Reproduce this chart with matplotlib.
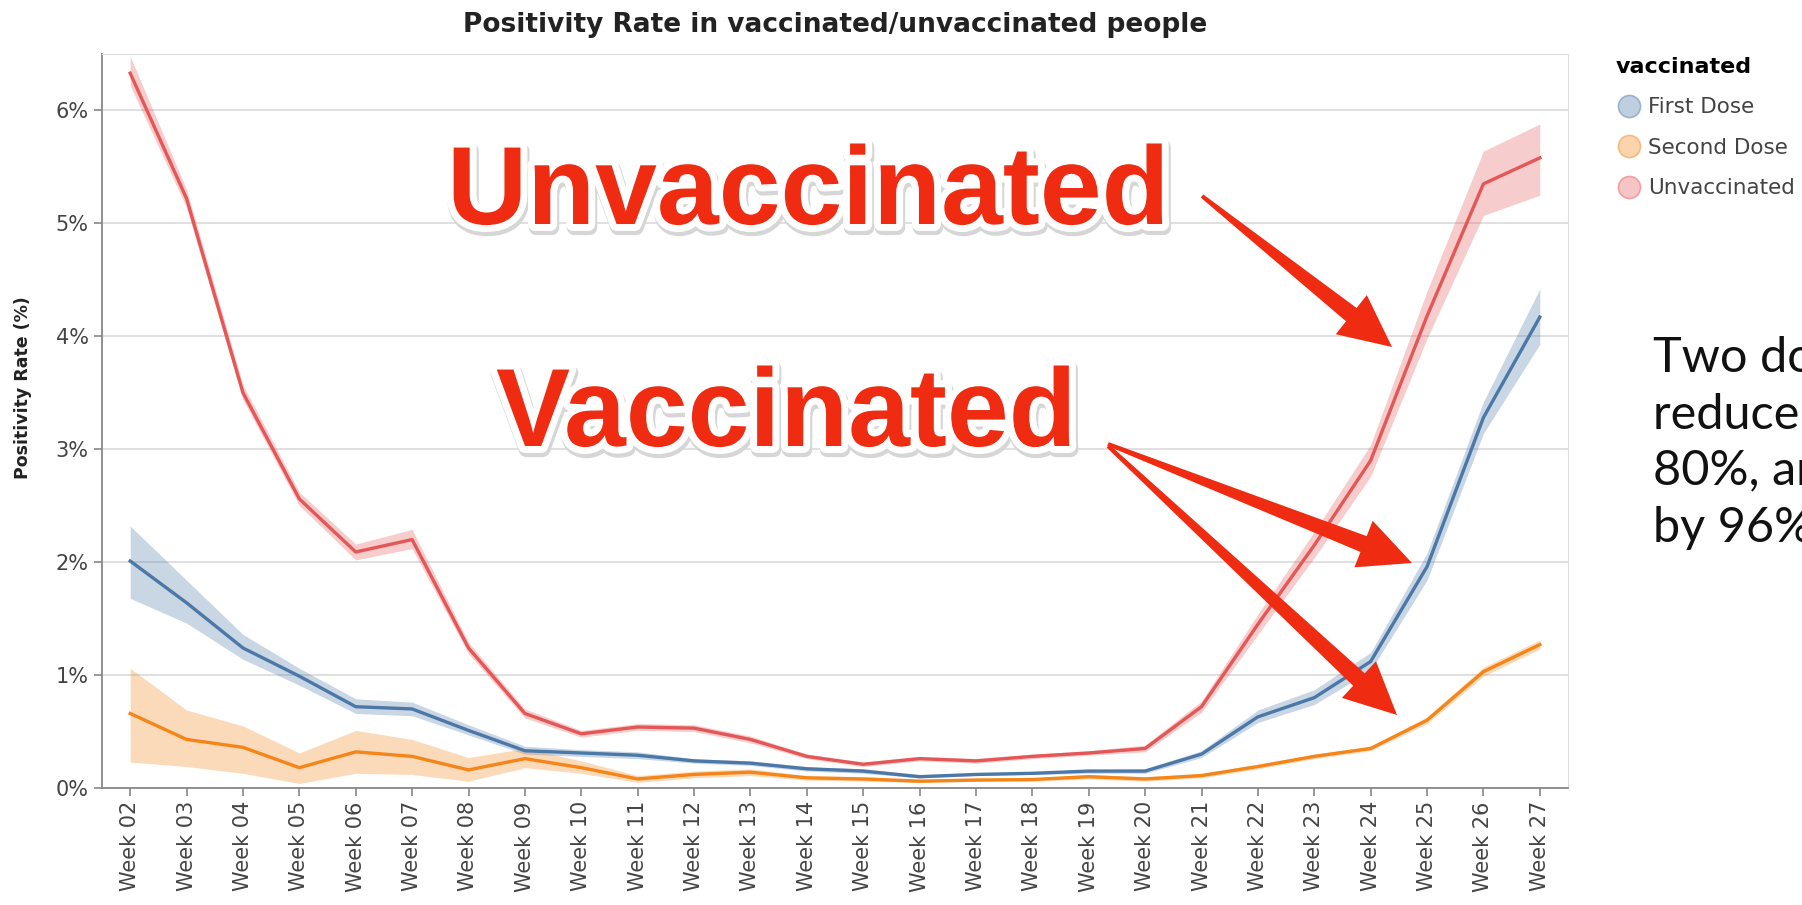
import numpy as np
import matplotlib
matplotlib.use('Agg')
import matplotlib.pyplot as plt
import matplotlib.patheffects as pe
from matplotlib.patches import Polygon
from matplotlib.lines import Line2D

# data (positivity rate in %)
weeks = ['Week %02d' % w for w in range(2, 28)]

unvacc = [6.33, 5.22, 3.50, 2.56, 2.09, 2.20, 1.24, 0.66, 0.48, 0.54, 0.53, 0.43, 0.28,
          0.21, 0.26, 0.24, 0.28, 0.31, 0.35, 0.72, 1.45, 2.15, 2.90, 4.18, 5.35, 5.58]
unvacc_lo = [6.22, 5.14, 3.44, 2.50, 2.02, 2.12, 1.19, 0.62, 0.45, 0.51, 0.50, 0.40, 0.26,
             0.19, 0.24, 0.22, 0.26, 0.29, 0.32, 0.67, 1.36, 2.04, 2.76, 3.98, 5.07, 5.25]
unvacc_hi = [6.48, 5.30, 3.57, 2.62, 2.16, 2.29, 1.29, 0.70, 0.51, 0.57, 0.56, 0.46, 0.30,
             0.23, 0.28, 0.26, 0.30, 0.33, 0.38, 0.77, 1.54, 2.27, 3.04, 4.40, 5.64, 5.88]

first = [2.01, 1.64, 1.24, 0.99, 0.72, 0.70, 0.51, 0.33, 0.31, 0.29, 0.24, 0.22, 0.17,
         0.15, 0.10, 0.12, 0.13, 0.15, 0.15, 0.30, 0.63, 0.80, 1.12, 1.96, 3.28, 4.17]
first_lo = [1.68, 1.46, 1.14, 0.91, 0.66, 0.64, 0.47, 0.30, 0.28, 0.26, 0.22, 0.20, 0.15,
            0.13, 0.09, 0.11, 0.12, 0.13, 0.13, 0.27, 0.58, 0.74, 1.04, 1.84, 3.14, 3.93]
first_hi = [2.32, 1.84, 1.36, 1.06, 0.79, 0.76, 0.56, 0.37, 0.34, 0.32, 0.26, 0.24, 0.19,
            0.17, 0.12, 0.13, 0.14, 0.16, 0.17, 0.33, 0.69, 0.87, 1.20, 2.08, 3.42, 4.42]

second = [0.66, 0.43, 0.36, 0.18, 0.32, 0.28, 0.16, 0.26, 0.18, 0.08, 0.12, 0.14, 0.09,
          0.08, 0.06, 0.07, 0.075, 0.10, 0.08, 0.11, 0.19, 0.28, 0.35, 0.60, 1.03, 1.27]
second_lo = [0.23, 0.19, 0.13, 0.04, 0.13, 0.12, 0.06, 0.18, 0.13, 0.05, 0.09, 0.11, 0.07,
             0.06, 0.05, 0.06, 0.06, 0.08, 0.06, 0.09, 0.17, 0.26, 0.33, 0.57, 0.99, 1.23]
second_hi = [1.06, 0.69, 0.55, 0.31, 0.51, 0.43, 0.27, 0.35, 0.24, 0.11, 0.15, 0.17, 0.11,
             0.10, 0.08, 0.09, 0.09, 0.12, 0.10, 0.13, 0.21, 0.30, 0.37, 0.63, 1.07, 1.31]

series = [('First Dose', first, first_lo, first_hi, '#4c78a8'),
          ('Second Dose', second, second_lo, second_hi, '#f58518'),
          ('Unvaccinated', unvacc, unvacc_lo, unvacc_hi, '#e45756')]

W, H = 1802, 905
fig = plt.figure(figsize=(W / 100, H / 100), dpi=100)
ax = fig.add_axes([102 / W, 1 - 788 / H, 1466 / W, 734 / H])

x = np.arange(len(weeks))
for name, y, lo, hi, col in series:
    ax.fill_between(x, lo, hi, color=col, alpha=0.3, lw=0, zorder=2)
    ax.plot(x, y, color=col, lw=2.4, zorder=3)

ax.set_xlim(-0.5, len(weeks) - 0.5)
ax.set_ylim(0, 6.5)
ax.set_yticks(range(7))
ax.set_yticklabels(['%d%%' % v for v in range(7)])
ax.set_xticks(x)
ax.set_xticklabels(weeks, rotation=90, va='top')
ax.tick_params(colors='#888888', labelcolor='#444444', labelsize=15, length=6, width=1.2)
ax.grid(axis='y', color='#dddddd', lw=1.3, zorder=0)
for s in ['top', 'right']:
    ax.spines[s].set_color('#dddddd')
for s in ['left', 'bottom']:
    ax.spines[s].set_color('#888888')
    ax.spines[s].set_linewidth(1.3)
ax.set_ylabel('Positivity Rate (%)', fontsize=12.5, fontweight='bold', color='#222222')
ax.yaxis.set_label_coords(-0.048, 0.545)

fig.text((102 + 1568) / 2 / W, 1 - 25 / H, 'Positivity Rate in vaccinated/unvaccinated people',
         ha='center', va='center', fontsize=19, fontweight='bold', color='#222222')

# legend
handles = [Line2D([], [], ls='', marker='o', markersize=16, mfc=(*matplotlib.colors.to_rgb(c), 0.35),
                  mec=(*matplotlib.colors.to_rgb(c), 0.45), mew=1.2) for _, _, _, _, c in series]
leg = fig.legend(handles, [s[0] for s in series], title='vaccinated', loc='upper left',
                 bbox_to_anchor=(1605 / W, 1 - 46 / H), frameon=False, fontsize=15.5,
                 title_fontproperties={'weight': 'bold', 'size': 16}, alignment='left',
                 handletextpad=0.3, labelspacing=0.95, borderpad=0, handlelength=1.2)
for t in leg.get_texts():
    t.set_color('#444444')

# big red labels
red = '#ef2b12'
fx = [pe.Stroke(linewidth=11, foreground='#d6d6d6', offset=(1, -2.5)),
      pe.Stroke(linewidth=10, foreground='white'), pe.Normal()]
fig.text(447 / W, 1 - 224 / H, 'Unvaccinated', fontsize=80, fontweight='bold', color=red,
         family='Liberation Sans', ha='left', va='baseline', path_effects=fx, zorder=10)
fig.text(496 / W, 1 - 446 / H, 'Vaccinated', fontsize=80, fontweight='bold', color=red,
         family='Liberation Sans', ha='left', va='baseline', path_effects=fx, zorder=10)


def arrow(tail, tip, hl=52, hw=50, w0=4, w1=17):
    t = np.array(tail, float)
    p = np.array(tip, float)
    d = (p - t) / np.hypot(*(p - t))
    n = np.array([-d[1], d[0]])
    b = p - d * hl
    pts = [t + n * w0 / 2, b + n * w1 / 2, b + n * hw / 2, p,
           b - n * hw / 2, b - n * w1 / 2, t - n * w0 / 2]
    pts = [(q[0] / W, 1 - q[1] / H) for q in pts]
    fig.add_artist(Polygon(pts, closed=True, color=red, lw=0, transform=fig.transFigure, zorder=11))


arrow((1202, 196), (1392, 347))
arrow((1108, 444), (1412, 563))
arrow((1108, 446), (1397, 715))

# side note, runs off the right edge as in the original
fig.text(1653 / W, 1 - 542 / H,
         'Two doses\nreduce infection by\n80%, and hospitalisation\nby 96%',
         fontsize=35, family='Lato', color='#111111', ha='left', va='baseline',
         linespacing=1.35)

plt.savefig('out.png', dpi=100)
